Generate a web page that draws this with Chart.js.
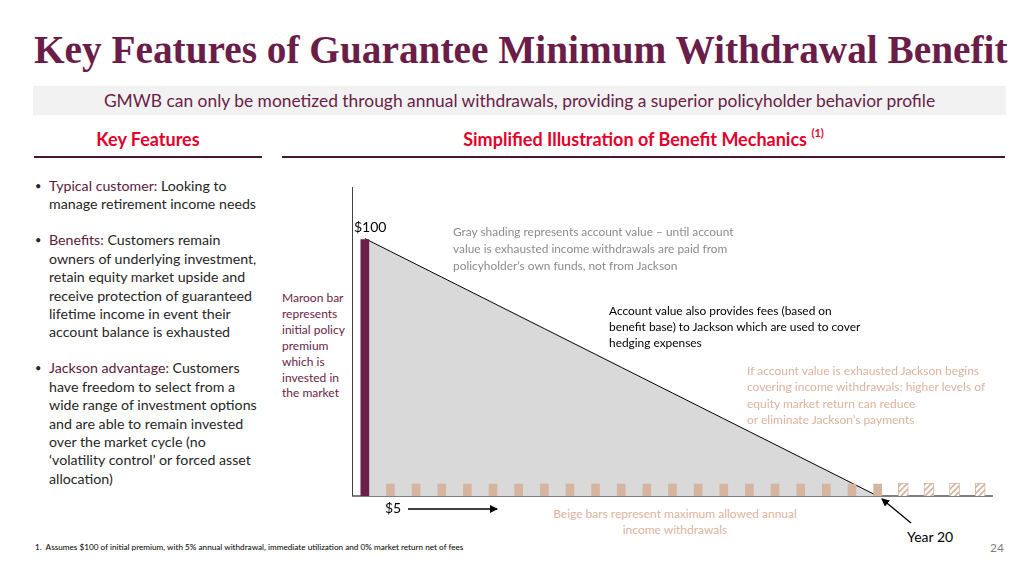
<!DOCTYPE html>
<html>
<head>
  <title>GMWB Key Features</title>
  <style>
    body {
      margin: 0;
      width: 1033px;
      height: 568px;
      position: relative;
      background: #fff;
      font-family: Lato, "Open Sans", sans-serif;
      color: #262626;
      overflow: hidden;
    }
    .abs { position: absolute; white-space: nowrap; }
    h1 {
      position: absolute;
      left: 34px;
      top: 26px;
      margin: 0;
      font-family: "Liberation Serif", "Times New Roman", serif;
      font-weight: bold;
      font-size: 39.3px;
      line-height: 48px;
      color: #6a1d48;
      white-space: nowrap;
    }
    #band {
      position: absolute;
      left: 33px;
      top: 86px;
      width: 973px;
      height: 29px;
      background: #f2f2f2;
      color: #6a1d48;
      font-size: 17.4px;
      line-height: 29px;
      text-align: center;
    }
    .head {
      position: absolute;
      top: 128px;
      font-weight: bold;
      font-size: 18px;
      line-height: 22px;
      height: 22px;
      color: #e4002b;
      text-align: center;
    }
    .head sup { font-size: 11px; line-height: 0; position: relative; top: -2px; vertical-align: super; }
    .rule {
      position: absolute;
      top: 156px;
      height: 2px;
      background: #4a1636;
    }
    #bullets {
      position: absolute;
      left: 35px;
      top: 177px;
      font-size: 14.2px;
      line-height: 18.4px;
      color: #262626;
    }
    #bullets div { position: relative; padding-left: 14px; margin-bottom: 17.6px; white-space: nowrap; }
    #bullets div::before { content: "\2022"; position: absolute; left: 0; top: 0; font-size: 11px; }
    #bullets b { font-weight: normal; color: #5a1a40; }
    #maroonNote {
      left: 282px; top: 290px;
      font-size: 12px; line-height: 15.9px; color: #6a1d48;
    }
    #grayNote {
      left: 453px; top: 224px;
      font-size: 11.9px; line-height: 16.8px; color: #8c8c8c;
    }
    #blackNote {
      left: 609px; top: 303px;
      font-size: 11.9px; line-height: 16px; color: #000;
    }
    #beigeNote {
      left: 747px; top: 363px;
      font-size: 12px; line-height: 16.4px; color: #dcb39e;
    }
    #beigeBars {
      left: 545px; top: 506px; width: 260px;
      font-size: 12px; line-height: 16px; color: #dcb39e; text-align: center;
    }
    #chartBox {
      position: absolute;
      left: 340px;
      top: 175px;
      width: 665px;
      height: 330px;
    }
    #arrows { position: absolute; left: 0; top: 0; }
  </style>
</head>
<body>
  <h1>Key Features of Guarantee Minimum Withdrawal Benefit</h1>
  <div id="band">GMWB can only be monetized through annual withdrawals, providing a superior policyholder behavior profile</div>

  <div class="head" style="left:34px;width:228px;">Key Features</div>
  <div class="head" style="left:282px;width:723px;">Simplified Illustration of Benefit Mechanics <sup>(1)</sup></div>
  <div class="rule" style="left:34px;width:228px;"></div>
  <div class="rule" style="left:282px;width:723px;"></div>

  <div id="bullets">
    <div><b>Typical customer:</b> Looking to<br>manage retirement income needs</div>
    <div><b>Benefits:</b> Customers remain<br>owners of underlying investment,<br>retain equity market upside and<br>receive protection of guaranteed<br>lifetime income in event their<br>account balance is exhausted</div>
    <div><b>Jackson advantage:</b> Customers<br>have freedom to select from a<br>wide range of investment options<br>and are able to remain invested<br>over the market cycle (no<br>‘volatility control’ or forced asset<br>allocation)</div>
  </div>

  <div id="maroonNote" class="abs">Maroon bar<br>represents<br>initial policy<br>premium<br>which is<br>invested in<br>the market</div>

  <div id="chartBox"><canvas id="chart"></canvas></div>

  <div class="abs" style="left:354px;top:217px;font-size:14px;line-height:20px;color:#000;">$100</div>
  <div id="grayNote" class="abs">Gray shading represents account value – until account<br>value is exhausted income withdrawals are paid from<br>policyholder’s own funds, not from Jackson</div>
  <div id="blackNote" class="abs">Account value also provides fees (based on<br>benefit base) to Jackson which are used to cover<br>hedging expenses</div>
  <div id="beigeNote" class="abs">If account value is exhausted Jackson begins<br>covering income withdrawals; higher levels of<br>equity market return can reduce<br>or eliminate Jackson’s payments</div>

  <div class="abs" style="left:385px;top:498px;font-size:14px;line-height:20px;color:#000;">$5</div>
  <div id="beigeBars" class="abs">Beige bars represent maximum allowed annual<br>income withdrawals</div>
  <div class="abs" style="left:907px;top:527px;font-size:14px;line-height:20px;color:#000;">Year 20</div>
  <div class="abs" style="left:990px;top:540px;font-size:12px;line-height:16px;color:#808080;">24</div>
  <div class="abs" style="left:35px;top:542px;font-size:8.2px;line-height:11px;color:#000;">1.&nbsp; Assumes $100 of initial premium, with 5% annual withdrawal, immediate utilization and 0% market return net of fees</div>

  <svg id="arrows" width="1033" height="568">
    <defs>
      <marker id="head" markerWidth="8" markerHeight="8" refX="7" refY="4" orient="auto" markerUnits="userSpaceOnUse">
        <path d="M0,0 L8,4 L0,8 z" fill="#000"/>
      </marker>
    </defs>
    <line x1="408" y1="509" x2="497" y2="509" stroke="#000" stroke-width="1.3" marker-end="url(#head)"/>
    <line x1="911" y1="523" x2="882" y2="499" stroke="#000" stroke-width="1.3" marker-end="url(#head)"/>
  </svg>

  <script src="https://cdn.jsdelivr.net/npm/chart.js@4.4.0/dist/chart.umd.min.js"></script>
  <script>
    // years since purchase (0 = premium paid)
    const years = ['0', '1', '2', '3', '4', '5', '6', '7', '8', '9', '10', '11', '12',
      '13', '14', '15', '16', '17', '18', '19', '20', '21', '22', '23', '24'];
    // maroon premium bar, then $5 annual withdrawals
    const barValues = [100, 5, 5, 5, 5, 5, 5, 5, 5, 5, 5, 5, 5, 5, 5, 5, 5, 5, 5, 5, 5, 5, 5, 5, 5];
    // account value at 0% market return
    const accountValue = [100, 95, 90, 85, 80, 75, 70, 65, 60, 55, 50, 45, 40, 35, 30, 25, 20, 15, 10, 5, 0];
    const lastFundedYear = 20;

    const MAROON = '#6a1f4b';
    const BEIGE = '#d6b5a0';

    // hatch pattern for withdrawals paid after account exhaustion
    function makeHatch() {
      const c = document.createElement('canvas');
      c.width = 6; c.height = 6;
      const g = c.getContext('2d');
      g.fillStyle = '#fff';
      g.fillRect(0, 0, 6, 6);
      g.strokeStyle = BEIGE;
      g.lineWidth = 1.6;
      g.beginPath();
      g.moveTo(-1, 7); g.lineTo(7, -1);
      g.moveTo(-4, 4); g.lineTo(4, -4);
      g.moveTo(2, 10); g.lineTo(10, 2);
      g.stroke();
      return g.createPattern(c, 'repeat');
    }
    const hatch = makeHatch();

    const barColors = years.map((y, i) => i === 0 ? MAROON : (i <= lastFundedYear ? BEIGE : hatch));
    const barBorders = years.map((y, i) => i > lastFundedYear ? BEIGE : 'rgba(0,0,0,0)');

    const axisLines = {
      id: 'axisLines',
      beforeDatasetsDraw(chart) {
        const { ctx, chartArea } = chart;
        ctx.save();
        ctx.strokeStyle = '#808080';
        ctx.lineWidth = 2;
        ctx.beginPath();
        ctx.moveTo(chartArea.left, chartArea.bottom);
        ctx.lineTo(chartArea.right, chartArea.bottom);
        ctx.stroke();
        ctx.strokeStyle = '#404040';
        ctx.lineWidth = 1;
        ctx.beginPath();
        ctx.moveTo(chartArea.left + 0.5, chartArea.top);
        ctx.lineTo(chartArea.left + 0.5, chartArea.bottom);
        ctx.stroke();
        ctx.restore();
      }
    };

    new Chart(document.getElementById('chart'), {
      data: {
        labels: years,
        datasets: [
          {
            type: 'line',
            label: 'Account value',
            data: accountValue,
            borderColor: '#000',
            borderWidth: 1,
            backgroundColor: '#d9d9d9',
            fill: 'origin',
            pointRadius: 0,
            tension: 0,
            order: 2
          },
          {
            type: 'bar',
            label: 'Premium / withdrawals',
            data: barValues,
            backgroundColor: barColors,
            borderColor: barBorders,
            borderWidth: 1,
            barThickness: 10,
            order: 1
          }
        ]
      },
      options: {
        responsive: true,
        maintainAspectRatio: false,
        animation: false,
        layout: { padding: { left: 12, top: 12, right: 12, bottom: 9 } },
        plugins: { legend: { display: false }, tooltip: { enabled: false } },
        scales: {
          x: { display: false, offset: true },
          y: { display: false, min: 0, max: 120 }
        }
      },
      plugins: [axisLines]
    });
  </script>
</body>
</html>
